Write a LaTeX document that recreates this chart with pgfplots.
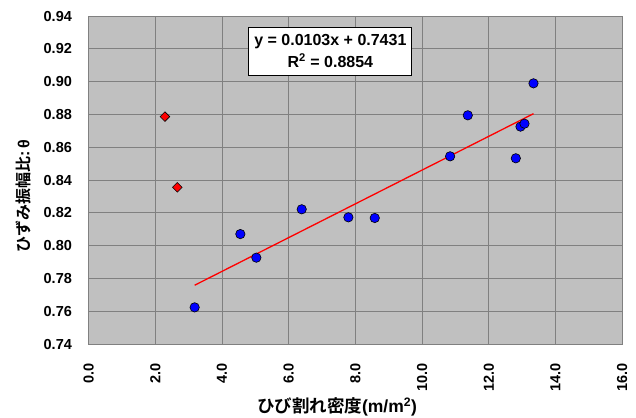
\documentclass[border=0pt]{standalone}
\usepackage{fontspec}
\setmainfont{Liberation Sans}
\newfontfamily\jp{Noto Sans CJK JP}[BoldFont={Noto Sans CJK JP Bold}]
\usepackage{pgfplots}
\pgfplotsset{compat=1.18}

\definecolor{plotbg}{RGB}{192,192,192}
\definecolor{gridc}{RGB}{128,128,128}
\definecolor{ptblue}{RGB}{0,0,255}
\definecolor{ptred}{RGB}{255,0,0}

\begin{document}
\begin{tikzpicture}
\path[use as bounding box] (-88.6pt,-72.9pt) rectangle (547.4pt,344.1pt);
\begin{axis}[
    at={(0,0)}, anchor=south west,
    scale only axis,
    width=533.6pt, height=328pt,
    xmin=0, xmax=16, ymin=0.74, ymax=0.94,
    xtick={0,2,...,16},
    ytick={0.74,0.76,...,0.94},
    /pgf/number format/assume math mode=true,
    font=\bfseries,
    xticklabel style={/pgf/number format/fixed, /pgf/number format/precision=1,
        /pgf/number format/fixed zerofill, yshift=-18.7pt, rotate=90, anchor=east,
        inner sep=0pt, font=\fontsize{14.5}{14.5}\selectfont\bfseries},
    yticklabel style={/pgf/number format/fixed, /pgf/number format/precision=2,
        /pgf/number format/fixed zerofill, anchor=east,
        inner sep=0pt, xshift=-16.5pt, font=\fontsize{14.5}{14.5}\selectfont\bfseries},
    major tick length=0pt,
    grid=major,
    major grid style={draw=gridc, line width=1pt},
    axis line style={draw=gridc, line width=1pt},
    axis background/.style={fill=plotbg},
    every axis x label/.style={at={(rel axis cs:0.4655,0)}, yshift=-62.6pt, anchor=center},
    every axis y label/.style={at={(rel axis cs:0,0.45)}, xshift=-65.3pt, rotate=90, anchor=center},
    xlabel={\fontsize{17.5}{17.5}\selectfont\bfseries{\jp ひび割れ密度}(m/m\textsuperscript{2})},
    ylabel={\fontsize{16}{16}\selectfont\bfseries{\jp ひずみ振幅比}:$\,$θ},
    clip=false,
]
% trend line
\addplot[ptred, line width=1.3pt, no marks] coordinates {(3.18,0.7759) (13.34,0.8805)};

% red diamonds
\addplot[only marks, mark=square*, mark size=3.4pt,
    mark options={rotate=45, fill=ptred, draw=black, line width=0.6pt}]
    coordinates {(2.29,0.8787) (2.66,0.8356)};

% blue circles
\addplot[only marks, mark=*, mark size=4.7pt,
    mark options={fill=ptblue, draw=black, line width=0.6pt}]
    coordinates {
    (3.18,0.7624) (4.55,0.8071) (5.03,0.7927) (6.39,0.8222)
    (7.79,0.8173) (8.58,0.8169) (10.84,0.8545) (11.37,0.8795)
    (12.81,0.8533) (12.95,0.8726) (13.07,0.8744) (13.34,0.8990)
    };

\node[draw=black, fill=white, line width=0.9pt, minimum width=163pt, minimum height=48pt,
    align=center, inner sep=0pt, font=\fontsize{16}{21.5}\selectfont\bfseries]
    at (axis cs:7.25,0.9187) {y = 0.0103x + 0.7431\\R\textsuperscript{2} = 0.8854};
\end{axis}
\end{tikzpicture}
\end{document}
